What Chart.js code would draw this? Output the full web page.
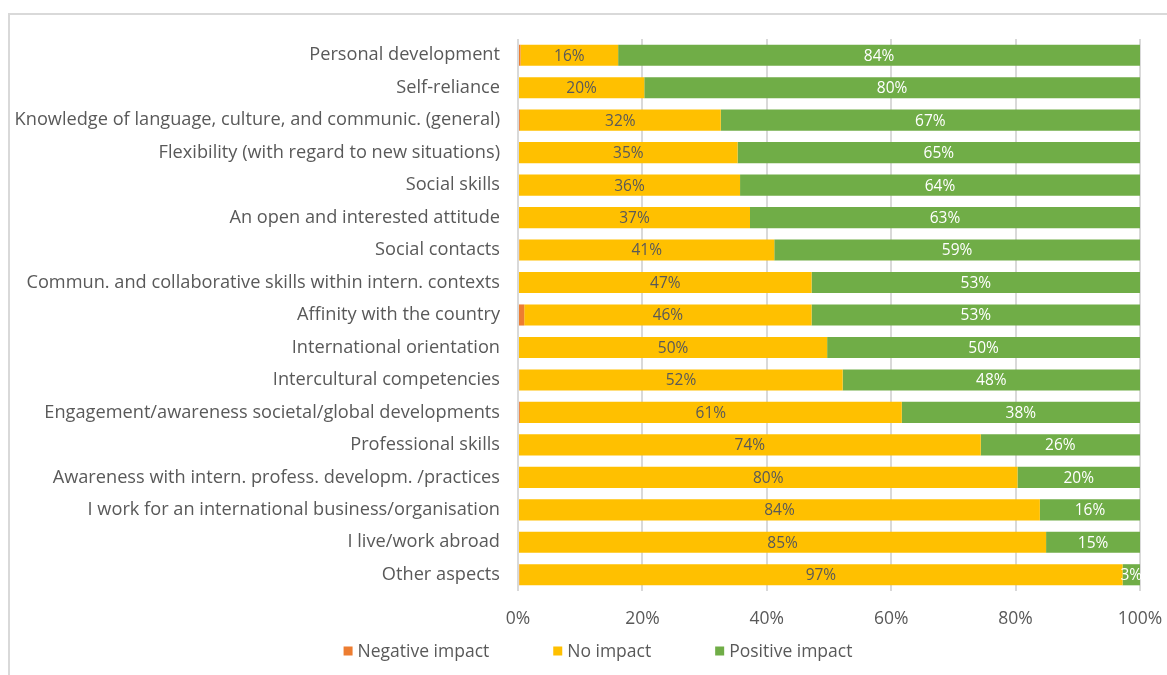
<!DOCTYPE html>
<html>
<head>
<meta charset="utf-8">
<script src="https://cdn.jsdelivr.net/npm/chart.js@4.4.1/dist/chart.umd.min.js"></script>
<style>
  html, body { margin: 0; padding: 0; background: #ffffff; }
  #wrap { position: relative; width: 1167px; height: 675px; overflow: hidden; }
  #frame { position: absolute; left: 8px; top: 13px; width: 1300px; height: 800px;
           border-top: 2px solid #d9d9d9; border-left: 2px solid #d9d9d9; box-sizing: border-box; }
  #c { position: absolute; left: 0; top: 0; }
</style>
</head>
<body>
<div id="wrap">
  <div id="frame"></div>
  <canvas id="c" width="1167" height="675"></canvas>
</div>
<script>
// Outcomes of the stay abroad, share of respondents per aspect (%)
const categories = [
  'Personal development',
  'Self-reliance',
  'Knowledge of language, culture, and communic. (general)',
  'Flexibility (with regard to new situations)',
  'Social skills',
  'An open and interested attitude',
  'Social contacts',
  'Commun. and collaborative skills within intern. contexts',
  'Affinity with the country',
  'International orientation',
  'Intercultural competencies',
  'Engagement/awareness societal/global developments',
  'Professional skills',
  'Awareness with intern. profess. developm. /practices',
  'I work for an international business/organisation',
  'I live/work abroad',
  'Other aspects'
];
const negativeImpact = [0.4, 0, 0.3, 0, 0, 0, 0.2, 0, 1.0, 0, 0.2, 0.3, 0, 0, 0, 0, 0.2];
const noImpact       = [15.7, 20.3, 32.3, 35.3, 35.7, 37.3, 41.0, 47.2, 46.2, 49.7, 52.0, 61.4, 74.4, 80.3, 83.9, 84.9, 97.0];
const positiveImpact = [83.9, 79.7, 67.4, 64.7, 64.3, 62.7, 58.8, 52.8, 52.8, 50.3, 47.8, 38.3, 25.6, 19.7, 16.1, 15.1, 2.8];
const seriesNames = ['Negative impact', 'No impact', 'Positive impact'];
const xTicks = [0, 20, 40, 60, 80, 100];

const FONT = "'Open Sans', 'DejaVu Sans', sans-serif";
const TEXT = '#595959';

// Percentage labels centred inside the "No impact" and "Positive impact" segments
const segmentLabels = {
  id: 'segmentLabels',
  afterDatasetsDraw(chart) {
    const ctx = chart.ctx;
    ctx.save();
    ctx.font = '15.5px ' + FONT;
    ctx.textAlign = 'center';
    ctx.textBaseline = 'middle';
    chart.data.datasets.forEach((ds, di) => {
      if (!ds.showValues) return;
      const meta = chart.getDatasetMeta(di);
      meta.data.forEach((bar, i) => {
        const v = ds.data[i];
        if (!v) return;
        ctx.fillStyle = ds.valueColor;
        ctx.fillText(Math.round(v) + '%', (bar.x + bar.base) / 2, bar.y + 1);
      });
    });
    ctx.restore();
  }
};

// Legend row under the axis: small square swatch followed by the series name
const keyRow = {
  id: 'keyRow',
  afterDraw(chart, args, opts) {
    const ctx = chart.ctx;
    ctx.save();
    ctx.font = opts.fontSize + 'px ' + FONT;
    ctx.textBaseline = 'middle';
    const items = chart.data.datasets.map(ds => ({
      label: ds.label, color: ds.backgroundColor, w: ctx.measureText(ds.label).width
    }));
    const total = items.reduce((s, it) => s + opts.box + opts.gap + it.w, 0) + opts.spacing * (items.length - 1);
    let x = opts.centerX - total / 2;
    items.forEach(it => {
      ctx.fillStyle = it.color;
      ctx.fillRect(x, opts.y - opts.box / 2, opts.box, opts.box);
      x += opts.box + opts.gap;
      ctx.fillStyle = TEXT;
      ctx.fillText(it.label, x, opts.y + 1);
      x += it.w + opts.spacing;
    });
    ctx.restore();
  }
};

new Chart(document.getElementById('c'), {
  type: 'bar',
  data: {
    labels: categories,
    datasets: [
      { label: seriesNames[0], data: negativeImpact, backgroundColor: '#ED7D31', showValues: false },
      { label: seriesNames[1], data: noImpact, backgroundColor: '#FFC000', showValues: true, valueColor: '#595959' },
      { label: seriesNames[2], data: positiveImpact, backgroundColor: '#70AD47', showValues: true, valueColor: '#ffffff' }
    ]
  },
  options: {
    indexAxis: 'y',
    responsive: false,
    animation: false,
    layout: { padding: { top: 39, right: 27, left: 0, bottom: 0 } },
    datasets: { bar: { categoryPercentage: 1, barPercentage: 0.65, borderWidth: 0 } },
    scales: {
      x: {
        stacked: true,
        min: 0, max: 100,
        afterBuildTicks(scale) { scale.ticks = xTicks.map(v => ({ value: v })); },
        afterFit(scale) { scale.height = 84; scale.paddingLeft = 0; scale.paddingRight = 0; },
        grid: { color: '#d9d9d9', lineWidth: 2, drawTicks: false },
        border: { display: false },
        ticks: { padding: 18, color: TEXT, font: { family: FONT, size: 17.5 }, callback: v => v + '%' }
      },
      y: {
        stacked: true,
        afterFit(scale) { scale.width = 518; scale.paddingTop = 0; scale.paddingBottom = 0; },
        grid: { display: false, drawTicks: false },
        border: { display: false },
        ticks: { padding: 18, autoSkip: false, color: TEXT, font: { family: FONT, size: 18.2 } }
      }
    },
    plugins: {
      legend: { display: false },
      tooltip: { enabled: false },
      keyRow: { centerX: 598, y: 651, box: 9, gap: 5, spacing: 64, fontSize: 17.5 }
    }
  },
  plugins: [segmentLabels, keyRow]
});
</script>
</body>
</html>
